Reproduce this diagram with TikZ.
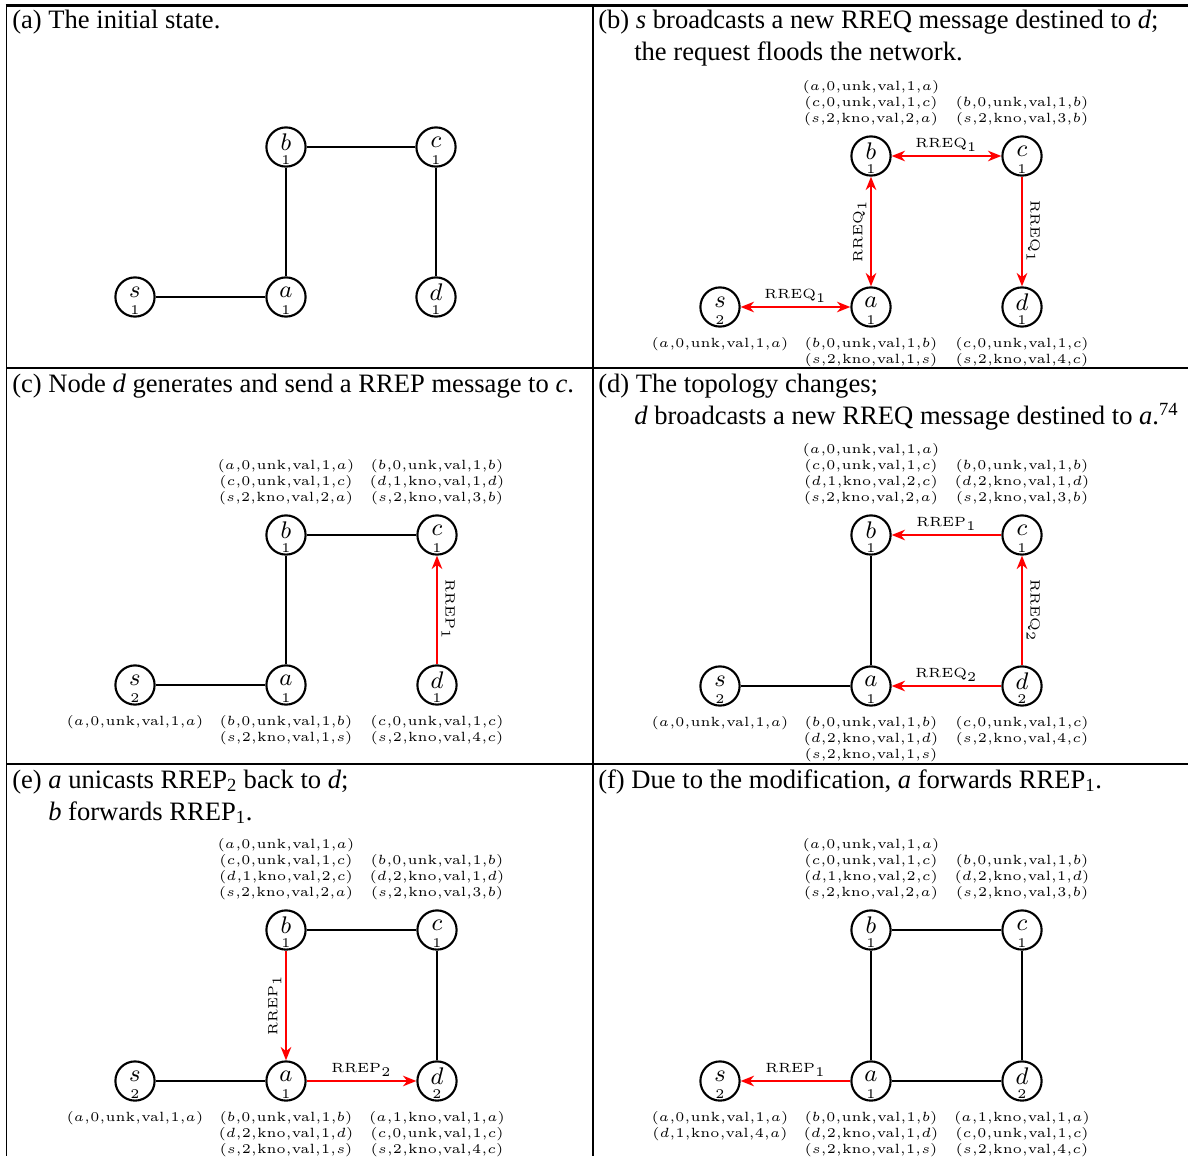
\documentclass[tikz,border=0pt]{standalone}
\usepackage{amsmath}
\usepackage{graphicx}
\usepackage[no-math]{fontspec}
\usetikzlibrary{positioning,arrows.meta}
\newfontfamily\capfont{Liberation Serif}
\newcommand{\smallup}[2]{\scalebox{1.9}{\fontsize{#1}{#1}\selectfont#2}}
\newcommand{\rte}[6]{\smallup{5}{$(#1{,}#2{,}\mathrm{#3}{,}\mathrm{#4}{,}#5{,}#6)$}}

\begin{document}
\begin{tikzpicture}[x=0.025cm,y=0.025cm,>={Stealth[length=9.5pt,width=7.5pt,inset=3pt]}]
		\tikzstyle{tableline} = [line width=1.4pt]
		\tikzstyle{paneltitle} = [anchor=base west, inner sep=0pt, font={\capfont\fontsize{18.9}{22.7}\selectfont}]
		\tikzstyle{host} = [circle, draw, line width=1.5pt, minimum size=0.98cm, inner sep=0pt]
		\tikzstyle{hostname} = [yshift=3.6pt, inner sep=0pt]
		\tikzstyle{seqnum} = [yshift=-9.6pt, inner sep=0pt]
		\tikzstyle{link} = [line width=1.5pt]
		\tikzstyle{msg} = [line width=1.5pt, red, ->]
		\tikzstyle{bimsg} = [line width=1.5pt, red, <->]
		\tikzstyle{msglabel} = [black, inner sep=2.5pt]
		\tikzstyle{rtab} = [align=center, inner sep=0pt, font={\fontsize{11.4}{11.4}\selectfont\lineskiplimit=-10pt\relax}]

		\useasboundingbox (0,0) rectangle (1188,-1156);

		% table rules
		\draw[tableline, line width=2.1pt] (5.5,-5.5) -- (1188,-5.5);
		\draw[tableline] (6.5,-4.5) -- (6.5,-1156);
		\draw[tableline] (593,-4.5) -- (593,-1156);
		\draw[tableline] (6.5,-368) -- (1188,-368);
		\draw[tableline] (6.5,-764) -- (1188,-764);

		% (a)
		\node[paneltitle] (cap1) at (12,-29) {(a) The initial state.};
		\node[host, label={[hostname]center:\smallup{9}{$s$}}, label={[seqnum]center:\smallup{5}{$1$}}] (s1) at (135,-297) {};
		\node[host, label={[hostname]center:\smallup{9}{$a$}}, label={[seqnum]center:\smallup{5}{$1$}}] (a1) at (286,-297) {};
		\node[host, label={[hostname]center:\smallup{9}{$b$}}, label={[seqnum]center:\smallup{5}{$1$}}] (b1) at (286,-147) {};
		\node[host, label={[hostname]center:\smallup{9}{$c$}}, label={[seqnum]center:\smallup{5}{$1$}}] (c1) at (436,-147) {};
		\node[host, label={[hostname]center:\smallup{9}{$d$}}, label={[seqnum]center:\smallup{5}{$1$}}] (d1) at (436,-297) {};
		\draw[link] (s1) -- (a1);
		\draw[link] (a1) -- (b1);
		\draw[link] (b1) -- (c1);
		\draw[link] (c1) -- (d1);

		% (b)
		\node[paneltitle] (cap2) at (598,-29) {(b) \textit{s} broadcasts a new RREQ message destined to \textit{d};};
		\node[paneltitle] (cap2b) at (634,-61) {the request floods the network.};
		\node[host, label={[hostname]center:\smallup{9}{$s$}}, label={[seqnum]center:\smallup{5}{$2$}}] (s2) at (720,-307) {};
		\node[host, label={[hostname]center:\smallup{9}{$a$}}, label={[seqnum]center:\smallup{5}{$1$}}] (a2) at (871,-307) {};
		\node[host, label={[hostname]center:\smallup{9}{$b$}}, label={[seqnum]center:\smallup{5}{$1$}}] (b2) at (871,-156) {};
		\node[host, label={[hostname]center:\smallup{9}{$c$}}, label={[seqnum]center:\smallup{5}{$1$}}] (c2) at (1022,-156) {};
		\node[host, label={[hostname]center:\smallup{9}{$d$}}, label={[seqnum]center:\smallup{5}{$1$}}] (d2) at (1022,-307) {};
		\draw[bimsg] (s2) -- node[msglabel, above] {\smallup{5}{$\mathrm{RREQ}_1$}} (a2);
		\draw[bimsg] (a2) -- node[msglabel, anchor=south, rotate=90] {\smallup{5}{$\mathrm{RREQ}_1$}} (b2);
		\draw[bimsg] (b2) -- node[msglabel, above] {\smallup{5}{$\mathrm{RREQ}_1$}} (c2);
		\draw[msg] (c2) -- node[msglabel, anchor=south, rotate=-90] {\smallup{5}{$\mathrm{RREQ}_1$}} (d2);
		\node[rtab, above=0.24cm of b2] (tb2) {\rte{a}{0}{unk}{val}{1}{a}\\ \rte{c}{0}{unk}{val}{1}{c}\\ \rte{s}{2}{kno}{val}{2}{a}};
		\node[rtab, above=0.24cm of c2] (tc2) {\rte{b}{0}{unk}{val}{1}{b}\\ \rte{s}{2}{kno}{val}{3}{b}};
		\node[rtab, below=0.235cm of s2] (ts2) {\rte{a}{0}{unk}{val}{1}{a}};
		\node[rtab, below=0.235cm of a2] (ta2) {\rte{b}{0}{unk}{val}{1}{b}\\ \rte{s}{2}{kno}{val}{1}{s}};
		\node[rtab, below=0.235cm of d2] (td2) {\rte{c}{0}{unk}{val}{1}{c}\\ \rte{s}{2}{kno}{val}{4}{c}};

		% (c)
		\node[paneltitle] (cap3) at (12,-392) {(c) Node \textit{d} generates and send a RREP message to \textit{c}.};
		\node[host, label={[hostname]center:\smallup{9}{$s$}}, label={[seqnum]center:\smallup{5}{$2$}}] (s3) at (135,-685) {};
		\node[host, label={[hostname]center:\smallup{9}{$a$}}, label={[seqnum]center:\smallup{5}{$1$}}] (a3) at (286,-685) {};
		\node[host, label={[hostname]center:\smallup{9}{$b$}}, label={[seqnum]center:\smallup{5}{$1$}}] (b3) at (286,-535) {};
		\node[host, label={[hostname]center:\smallup{9}{$c$}}, label={[seqnum]center:\smallup{5}{$1$}}] (c3) at (437,-535) {};
		\node[host, label={[hostname]center:\smallup{9}{$d$}}, label={[seqnum]center:\smallup{5}{$1$}}] (d3) at (437,-685) {};
		\draw[link] (s3) -- (a3);
		\draw[link] (a3) -- (b3);
		\draw[link] (b3) -- (c3);
		\draw[msg] (d3) -- node[msglabel, anchor=south, rotate=-90] {\smallup{5}{$\mathrm{RREP}_1$}} (c3);
		\node[rtab, above=0.24cm of b3] (tb3) {\rte{a}{0}{unk}{val}{1}{a}\\ \rte{c}{0}{unk}{val}{1}{c}\\ \rte{s}{2}{kno}{val}{2}{a}};
		\node[rtab, above=0.24cm of c3] (tc3) {\rte{b}{0}{unk}{val}{1}{b}\\ \rte{d}{1}{kno}{val}{1}{d}\\ \rte{s}{2}{kno}{val}{3}{b}};
		\node[rtab, below=0.235cm of s3] (ts3) {\rte{a}{0}{unk}{val}{1}{a}};
		\node[rtab, below=0.235cm of a3] (ta3) {\rte{b}{0}{unk}{val}{1}{b}\\ \rte{s}{2}{kno}{val}{1}{s}};
		\node[rtab, below=0.235cm of d3] (td3) {\rte{c}{0}{unk}{val}{1}{c}\\ \rte{s}{2}{kno}{val}{4}{c}};

		% (d)
		\node[paneltitle] (cap4) at (598,-392) {(d) The topology changes;};
		\node[paneltitle] (cap4b) at (634,-424) {\textit{d} broadcasts a new RREQ message destined to \textit{a}.\textsuperscript{74}};
		\node[host, label={[hostname]center:\smallup{9}{$s$}}, label={[seqnum]center:\smallup{5}{$2$}}] (s4) at (720,-686) {};
		\node[host, label={[hostname]center:\smallup{9}{$a$}}, label={[seqnum]center:\smallup{5}{$1$}}] (a4) at (871,-686) {};
		\node[host, label={[hostname]center:\smallup{9}{$b$}}, label={[seqnum]center:\smallup{5}{$1$}}] (b4) at (871,-535) {};
		\node[host, label={[hostname]center:\smallup{9}{$c$}}, label={[seqnum]center:\smallup{5}{$1$}}] (c4) at (1022,-535) {};
		\node[host, label={[hostname]center:\smallup{9}{$d$}}, label={[seqnum]center:\smallup{5}{$2$}}] (d4) at (1022,-686) {};
		\draw[link] (s4) -- (a4);
		\draw[link] (a4) -- (b4);
		\draw[msg] (c4) -- node[msglabel, above] {\smallup{5}{$\mathrm{RREP}_1$}} (b4);
		\draw[msg] (d4) -- node[msglabel, anchor=south, rotate=-90] {\smallup{5}{$\mathrm{RREQ}_2$}} (c4);
		\draw[msg] (d4) -- node[msglabel, above] {\smallup{5}{$\mathrm{RREQ}_2$}} (a4);
		\node[rtab, above=0.24cm of b4] (tb4) {\rte{a}{0}{unk}{val}{1}{a}\\ \rte{c}{0}{unk}{val}{1}{c}\\ \rte{d}{1}{kno}{val}{2}{c}\\ \rte{s}{2}{kno}{val}{2}{a}};
		\node[rtab, above=0.24cm of c4] (tc4) {\rte{b}{0}{unk}{val}{1}{b}\\ \rte{d}{2}{kno}{val}{1}{d}\\ \rte{s}{2}{kno}{val}{3}{b}};
		\node[rtab, below=0.235cm of s4] (ts4) {\rte{a}{0}{unk}{val}{1}{a}};
		\node[rtab, below=0.235cm of a4] (ta4) {\rte{b}{0}{unk}{val}{1}{b}\\ \rte{d}{2}{kno}{val}{1}{d}\\ \rte{s}{2}{kno}{val}{1}{s}};
		\node[rtab, below=0.235cm of d4] (td4) {\rte{c}{0}{unk}{val}{1}{c}\\ \rte{s}{2}{kno}{val}{4}{c}};

		% (e)
		\node[paneltitle] (cap5) at (12,-788) {(e) \textit{a} unicasts RREP\textsubscript{2} back to \textit{d};};
		\node[paneltitle] (cap5b) at (48,-820) {\textit{b} forwards RREP\textsubscript{1}.};
		\node[host, label={[hostname]center:\smallup{9}{$s$}}, label={[seqnum]center:\smallup{5}{$2$}}] (s5) at (135,-1081) {};
		\node[host, label={[hostname]center:\smallup{9}{$a$}}, label={[seqnum]center:\smallup{5}{$1$}}] (a5) at (286,-1081) {};
		\node[host, label={[hostname]center:\smallup{9}{$b$}}, label={[seqnum]center:\smallup{5}{$1$}}] (b5) at (286,-930) {};
		\node[host, label={[hostname]center:\smallup{9}{$c$}}, label={[seqnum]center:\smallup{5}{$1$}}] (c5) at (437,-930) {};
		\node[host, label={[hostname]center:\smallup{9}{$d$}}, label={[seqnum]center:\smallup{5}{$2$}}] (d5) at (437,-1081) {};
		\draw[link] (s5) -- (a5);
		\draw[msg] (b5) -- node[msglabel, anchor=south, rotate=90] {\smallup{5}{$\mathrm{RREP}_1$}} (a5);
		\draw[link] (b5) -- (c5);
		\draw[link] (c5) -- (d5);
		\draw[msg] (a5) -- node[msglabel, above] {\smallup{5}{$\mathrm{RREP}_2$}} (d5);
		\node[rtab, above=0.24cm of b5] (tb5) {\rte{a}{0}{unk}{val}{1}{a}\\ \rte{c}{0}{unk}{val}{1}{c}\\ \rte{d}{1}{kno}{val}{2}{c}\\ \rte{s}{2}{kno}{val}{2}{a}};
		\node[rtab, above=0.24cm of c5] (tc5) {\rte{b}{0}{unk}{val}{1}{b}\\ \rte{d}{2}{kno}{val}{1}{d}\\ \rte{s}{2}{kno}{val}{3}{b}};
		\node[rtab, below=0.235cm of s5] (ts5) {\rte{a}{0}{unk}{val}{1}{a}};
		\node[rtab, below=0.235cm of a5] (ta5) {\rte{b}{0}{unk}{val}{1}{b}\\ \rte{d}{2}{kno}{val}{1}{d}\\ \rte{s}{2}{kno}{val}{1}{s}};
		\node[rtab, below=0.235cm of d5] (td5) {\rte{a}{1}{kno}{val}{1}{a}\\ \rte{c}{0}{unk}{val}{1}{c}\\ \rte{s}{2}{kno}{val}{4}{c}};

		% (f)
		\node[paneltitle] (cap6) at (598,-788) {(f) Due to the modification, \textit{a} forwards RREP\textsubscript{1}.};
		\node[host, label={[hostname]center:\smallup{9}{$s$}}, label={[seqnum]center:\smallup{5}{$2$}}] (s6) at (720,-1081) {};
		\node[host, label={[hostname]center:\smallup{9}{$a$}}, label={[seqnum]center:\smallup{5}{$1$}}] (a6) at (871,-1081) {};
		\node[host, label={[hostname]center:\smallup{9}{$b$}}, label={[seqnum]center:\smallup{5}{$1$}}] (b6) at (871,-930) {};
		\node[host, label={[hostname]center:\smallup{9}{$c$}}, label={[seqnum]center:\smallup{5}{$1$}}] (c6) at (1022,-930) {};
		\node[host, label={[hostname]center:\smallup{9}{$d$}}, label={[seqnum]center:\smallup{5}{$2$}}] (d6) at (1022,-1081) {};
		\draw[msg] (a6) -- node[msglabel, above] {\smallup{5}{$\mathrm{RREP}_1$}} (s6);
		\draw[link] (a6) -- (b6);
		\draw[link] (b6) -- (c6);
		\draw[link] (c6) -- (d6);
		\draw[link] (a6) -- (d6);
		\node[rtab, above=0.24cm of b6] (tb6) {\rte{a}{0}{unk}{val}{1}{a}\\ \rte{c}{0}{unk}{val}{1}{c}\\ \rte{d}{1}{kno}{val}{2}{c}\\ \rte{s}{2}{kno}{val}{2}{a}};
		\node[rtab, above=0.24cm of c6] (tc6) {\rte{b}{0}{unk}{val}{1}{b}\\ \rte{d}{2}{kno}{val}{1}{d}\\ \rte{s}{2}{kno}{val}{3}{b}};
		\node[rtab, below=0.235cm of s6] (ts6) {\rte{a}{0}{unk}{val}{1}{a}\\ \rte{d}{1}{kno}{val}{4}{a}};
		\node[rtab, below=0.235cm of a6] (ta6) {\rte{b}{0}{unk}{val}{1}{b}\\ \rte{d}{2}{kno}{val}{1}{d}\\ \rte{s}{2}{kno}{val}{1}{s}};
		\node[rtab, below=0.235cm of d6] (td6) {\rte{a}{1}{kno}{val}{1}{a}\\ \rte{c}{0}{unk}{val}{1}{c}\\ \rte{s}{2}{kno}{val}{4}{c}};
	\end{tikzpicture}
\end{document}
